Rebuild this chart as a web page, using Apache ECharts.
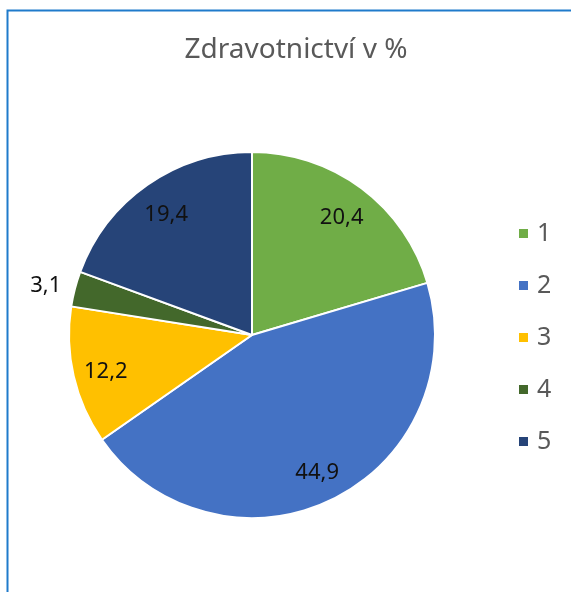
<!DOCTYPE html>
<html>
<head>
<meta charset="utf-8">
<script src="https://cdn.jsdelivr.net/npm/echarts@6/dist/echarts.min.js"></script>
<style>
html,body{margin:0;padding:0;background:#fff}
#chart{width:571px;height:592px}
</style>
</head>
<body>
<div id="chart"></div>
<script>
// data
let categories = ['1', '2', '3', '4', '5'];
let values = [20.4, 44.9, 12.2, 3.1, 19.4];
let colors = ['#70AD47', '#4472C4', '#FFC000', '#43682B', '#264478'];
let outsideLabel = ['4'];

let fmt = p => String(p.value).replace('.', ',');
let fontFam = '"Noto Sans", "Open Sans", sans-serif';

let mainData = categories.map((c, i) => {
    let d = {name: c, value: values[i], itemStyle: {color: colors[i]}};
    if (outsideLabel.indexOf(c) != -1) {
        d.label = {show: true, position: 'outside', formatter: fmt, fontSize: 22, color: '#111', fontFamily: fontFam, distanceToLabelLine: 2};
        d.labelLine = {show: false, length: 12, length2: 0};
    }
    return d;
});
// bigger transparent pie only to push the inner labels outwards
let labelData = categories.map((c, i) => ({
    name: c, value: values[i],
    label: {show: outsideLabel.indexOf(c) == -1}
}));

let chart = echarts.init(document.getElementById('chart'));
chart.setOption({
    animation: false,
    title: {
        text: 'Zdravotnictví v %',
        left: 291, top: 31, textAlign: 'center',
        textStyle: {fontSize: 28, fontWeight: 'normal', color: '#595959', fontFamily: fontFam}
    },
    legend: {
        orient: 'vertical', left: 512, top: 216,
        itemWidth: 11, itemHeight: 11, itemGap: 27,
        icon: 'rect',
        data: categories.map((c, i) => ({name: c, itemStyle: {color: colors[i]}})),
        textStyle: {fontSize: 25, lineHeight: 24, color: '#595959', fontFamily: fontFam, padding: [0, 0, 0, 3]}
    },
    graphic: [{
        type: 'rect', silent: true,
        shape: {x: 7.5, y: 10.5, width: 700, height: 700},
        style: {fill: 'none', stroke: '#1F7BCB', lineWidth: 2}
    }],
    series: [{
        type: 'pie',
        center: [252, 335], radius: [0, 183],
        startAngle: 90, clockwise: true,
        data: mainData,
        itemStyle: {borderColor: '#fff', borderWidth: 2},
        label: {show: false},
        labelLine: {show: false},
        emphasis: {disabled: true}
    }, {
        type: 'pie', silent: true,
        center: [252, 338], radius: [0, 294],
        startAngle: 90, clockwise: true,
        data: labelData,
        itemStyle: {color: 'rgba(0,0,0,0)'},
        label: {position: 'inside', formatter: fmt, fontSize: 22, color: '#111', fontFamily: fontFam},
        labelLine: {show: false},
        emphasis: {disabled: true}
    }]
});
</script>
</body>
</html>
